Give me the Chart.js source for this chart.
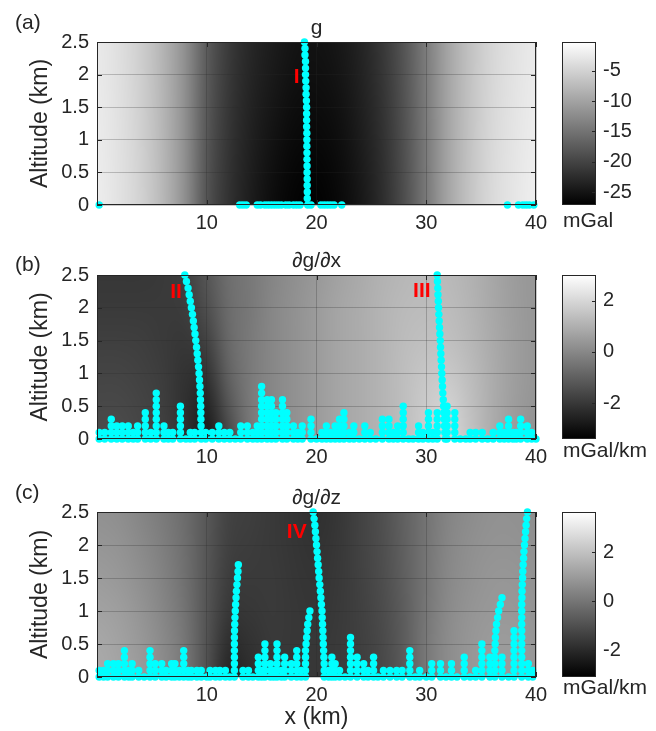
<!DOCTYPE html>
<html>
<head>
<meta charset="utf-8">
<script src="https://cdn.jsdelivr.net/npm/chart.js"></script>
<style>
  html, body { margin: 0; padding: 0; background: #fff; }
  #wrap { position: relative; width: 656px; height: 731px; }
  canvas { position: absolute; left: 0; }
</style>
</head>
<body>
<div id="wrap">
  <canvas id="panelA" width="656" height="235" style="top:0"></canvas>
  <canvas id="panelB" width="656" height="235" style="top:235px"></canvas>
  <canvas id="panelC" width="656" height="261" style="top:470px"></canvas>
</div>
<script>
// ---- background maps (columns at heatX, rows at the given altitudes, bottom row first)
const heatX = [0, 2, 4, 6, 8, 10, 12, 14, 16, 18, 20, 22, 24, 26, 28, 30, 32, 34, 36, 38, 40];
const heatZa = [0, 1.25, 2.5];
const heatZ = [0, 0.5, 1, 1.5, 2, 2.5];

// g (mGal)
const gMap = [
  [-2.2, -3.3, -5.0, -7.8, -12.0, -18.5, -22.0, -24.2, -25.8, -26.8, -27.0, -26.3, -24.8, -22.5, -19.0, -14.5, -9.8, -6.5, -4.2, -2.9, -2.0],
  [-2.4, -3.5, -5.2, -8.0, -12.0, -18.0, -21.5, -23.6, -25.0, -25.9, -26.1, -25.5, -24.1, -21.9, -18.6, -14.3, -9.8, -6.6, -4.4, -3.1, -2.3],
  [-2.6, -3.7, -5.4, -8.2, -12.0, -17.5, -21.0, -23.0, -24.2, -25.0, -25.2, -24.7, -23.4, -21.3, -18.2, -14.1, -9.8, -6.7, -4.6, -3.3, -2.5]
];
// dg/dx (mGal/km)
const dgdxMap = [
  [-1.52, -1.52, -1.64, -1.77, -2.15, -2.77, -1.64, -0.39, -0.01, 0.24, 0.49, 0.74, 0.92, 1.12, 1.37, 1.75, 2.00, 1.49, 0.92, 0.49, 0.24],
  [-1.59, -1.59, -1.69, -1.84, -2.20, -2.52, -1.27, -0.34, -0.01, 0.24, 0.49, 0.74, 0.92, 1.12, 1.37, 1.70, 1.87, 1.42, 0.92, 0.54, 0.31],
  [-1.69, -1.69, -1.77, -1.89, -2.15, -2.15, -0.94, -0.34, -0.01, 0.24, 0.49, 0.74, 0.92, 1.12, 1.37, 1.57, 1.62, 1.32, 0.92, 0.57, 0.37],
  [-1.82, -1.82, -1.84, -1.94, -2.02, -1.77, -0.76, -0.34, -0.01, 0.24, 0.49, 0.74, 0.92, 1.12, 1.32, 1.42, 1.42, 1.19, 0.87, 0.57, 0.37],
  [-1.94, -1.94, -1.94, -1.94, -1.89, -1.44, -0.69, -0.39, -0.01, 0.24, 0.49, 0.74, 0.92, 1.12, 1.27, 1.32, 1.32, 1.12, 0.82, 0.54, 0.37],
  [-2.02, -2.02, -2.02, -1.97, -1.84, -1.27, -0.64, -0.39, -0.06, 0.19, 0.42, 0.67, 0.87, 1.07, 1.19, 1.27, 1.24, 1.07, 0.79, 0.52, 0.37]
];
// dg/dz (mGal/km)
const dgdzMap = [
  [1.40, 1.27, 1.00, 0.61, 0.08, -0.98, -2.17, -1.91, -1.64, -1.64, -1.64, -1.56, -1.46, -1.19, -0.72, 0.08, 0.61, 0.87, 1.00, 1.00, 0.87],
  [1.35, 1.19, 0.92, 0.55, 0.02, -0.93, -1.91, -1.78, -1.59, -1.64, -1.64, -1.56, -1.43, -1.17, -0.66, 0.08, 0.61, 0.87, 1.00, 1.00, 0.87],
  [1.19, 1.08, 0.82, 0.45, -0.06, -0.88, -1.64, -1.64, -1.56, -1.64, -1.70, -1.59, -1.41, -1.11, -0.64, 0.02, 0.55, 0.82, 0.92, 0.92, 0.82],
  [1.03, 0.92, 0.69, 0.34, -0.14, -0.85, -1.51, -1.56, -1.56, -1.67, -1.72, -1.62, -1.38, -1.06, -0.59, 0.00, 0.50, 0.74, 0.87, 0.87, 0.76],
  [0.87, 0.79, 0.55, 0.24, -0.19, -0.82, -1.41, -1.51, -1.59, -1.70, -1.78, -1.64, -1.35, -1.04, -0.56, -0.03, 0.45, 0.69, 0.79, 0.79, 0.71],
  [0.74, 0.66, 0.42, 0.13, -0.24, -0.80, -1.35, -1.46, -1.59, -1.72, -1.83, -1.67, -1.35, -1.01, -0.53, -0.06, 0.39, 0.61, 0.74, 0.74, 0.66]
];

// colorbar limits
const gRange = [-27.1, -0.3];
const dgdxRange = [-3.4, 3.0];
const dgdzRange = [-3.1, 3.65];

// ---- detected points
// altitudes of the long chains, top to bottom; shorter chains use the lower part
const zChain = [2.5, 2.4, 2.3, 2.2, 2.1, 2.0, 1.9, 1.8, 1.7, 1.6, 1.5, 1.4, 1.3, 1.2, 1.1, 1.0, 0.9, 0.8, 0.7, 0.6, 0.5, 0.4, 0.3, 0.2, 0.1, 0];

const gChains = [
  [18.9, 18.95, 18.95, 19.0, 19.0, 19.0, 19.02, 19.05, 19.05, 19.08, 19.1, 19.1, 19.1, 19.1, 19.12, 19.12, 19.12, 19.13, 19.13, 19.14, 19.14, 19.15, 19.15, 19.16, 19.16, 19.2]
];
const gStacks = [
  [0.2, [0]], [13.0, [0]], [13.3, [0]], [13.6, [0]], [14.6, [0]], [14.9, [0]], [15.3, [0]], [15.6, [0]],
  [15.9, [0]], [16.2, [0]], [16.5, [0]], [16.8, [0]], [17.2, [0]], [17.5, [0]], [17.9, [0]], [18.2, [0]],
  [18.5, [0]], [19.5, [0]], [20.4, [0]], [20.7, [0]], [21.0, [0]], [21.3, [0]], [21.6, [0]], [22.3, [0]],
  [37.4, [0]], [38.4, [0]], [38.8, [0]], [39.1, [0]], [39.4, [0]], [39.8, [0]]
];

const dgdxChains = [
  [8.0, 8.15, 8.3, 8.4, 8.5, 8.6, 8.7, 8.78, 8.85, 8.93, 9.0, 9.07, 9.13, 9.19, 9.25, 9.3, 9.34, 9.38, 9.41, 9.43, 9.45, 9.46, 9.47, 9.48, 9.5, 9.5],
  [31.0, 31.02, 31.05, 31.07, 31.1, 31.12, 31.15, 31.18, 31.21, 31.24, 31.28, 31.3, 31.33, 31.36, 31.39, 31.42, 31.45, 31.48, 31.51, 31.55, 31.58, 31.6, 31.63, 31.66, 31.69, 31.72]
];
const dgdxStacks = [
  [0.2, [0, 0.1]], [0.7, [0, 0.1]], [1.3, [0, 0.1, 0.2, 0.3]], [1.8, [0, 0.1, 0.2]], [2.3, [0, 0.1, 0.2]],
  [2.85, [0, 0.1, 0.2]], [3.3, [0, 0.1]], [3.7, [0, 0.1, 0.2]], [4.4, [0, 0.1, 0.2, 0.3, 0.4]], [4.9, [0, 0.1]],
  [5.4, [0, 0.1, 0.2, 0.3, 0.4, 0.5, 0.6, 0.7]], [6.1, [0, 0.1, 0.2]], [6.5, [0, 0.1]], [6.9, [0, 0.1]],
  [7.6, [0, 0.1, 0.2, 0.3, 0.4, 0.5]], [8.1, [0]], [8.5, [0, 0.1]], [8.9, [0, 0.1]], [9.9, [0, 0.1]],
  [10.5, [0, 0.1]], [11.1, [0, 0.1, 0.2]], [11.6, [0, 0.1]], [12.1, [0, 0.1]], [12.6, [0]],
  [13.1, [0, 0.1, 0.2]], [13.7, [0, 0.1, 0.2]], [14.2, [0, 0.1]], [14.6, [0, 0.1, 0.2]],
  [15.0, [0, 0.1, 0.2, 0.3, 0.4, 0.5, 0.6, 0.7, 0.8]], [15.5, [0, 0.1, 0.2, 0.3, 0.4, 0.5, 0.6]],
  [15.9, [0, 0.1, 0.2, 0.3, 0.4, 0.5, 0.6]], [16.3, [0, 0.1, 0.2, 0.3, 0.4]],
  [16.9, [0, 0.1, 0.2, 0.3, 0.4, 0.5, 0.6]], [17.3, [0, 0.1, 0.2, 0.3, 0.4]], [17.9, [0, 0.1, 0.2]],
  [18.3, [0, 0.1]], [18.7, [0, 0.1, 0.2]], [19.5, [0, 0.1, 0.2, 0.3]], [20.0, [0]], [20.5, [0, 0.1]],
  [20.9, [0, 0.1, 0.2]], [21.3, [0, 0.1]], [21.7, [0, 0.1, 0.2]], [22.1, [0, 0.1, 0.2, 0.3]],
  [22.5, [0, 0.1, 0.2, 0.3, 0.4]], [23.0, [0, 0.1]], [23.4, [0, 0.1, 0.2]], [23.9, [0]], [24.4, [0, 0.1, 0.2]],
  [24.9, [0, 0.1]], [25.4, [0]], [26.0, [0, 0.1, 0.2, 0.3]], [26.6, [0, 0.1, 0.2, 0.3]], [27.0, [0, 0.1]],
  [27.4, [0, 0.1, 0.2]], [27.9, [0, 0.1, 0.2, 0.3, 0.4, 0.5]], [28.4, [0]], [28.8, [0]], [29.3, [0, 0.1, 0.2]],
  [29.7, [0, 0.1]], [30.2, [0, 0.1, 0.2, 0.3, 0.4]], [30.6, [0, 0.1]], [31.0, [0, 0.1, 0.2, 0.3, 0.4]],
  [31.9, [0, 0.1, 0.2, 0.3, 0.4, 0.5]], [32.6, [0, 0.1, 0.2, 0.3, 0.4]], [33.1, [0]], [33.6, [0]],
  [34.0, [0, 0.1]], [34.5, [0, 0.1]], [35.1, [0, 0.1]], [35.6, [0]], [36.1, [0, 0.1]], [36.7, [0, 0.1, 0.2]],
  [37.1, [0, 0.1]], [37.5, [0, 0.1, 0.2, 0.3]], [37.9, [0, 0.1]], [38.2, [0, 0.1]], [38.6, [0, 0.1, 0.2, 0.3]],
  [39.2, [0, 0.1, 0.2]], [39.6, [0, 0.1]], [40.0, [0]]
];

const dgdzChains = [
  [12.88, 12.85, 12.8, 12.75, 12.7, 12.67, 12.63, 12.6, 12.57, 12.55, 12.53, 12.52, 12.52, 12.52, 12.52, 12.52, 12.52, 12.52],
  [19.4, 19.3, 19.2, 19.15, 19.1, 19.05, 19.0, 19.0, 19.0, 19.0, 19.0],
  [19.7, 19.78, 19.85, 19.9, 19.95, 20.0, 20.05, 20.1, 20.15, 20.2, 20.24, 20.3, 20.35, 20.4, 20.45, 20.5, 20.52, 20.55, 20.58, 20.6, 20.62, 20.65, 20.67, 20.7, 20.7, 20.7],
  [36.9, 36.75, 36.6, 36.5, 36.4, 36.35, 36.3, 36.28, 36.25, 36.25, 36.25, 36.25, 36.25],
  [39.22, 39.15, 39.1, 39.05, 39.0, 38.95, 38.9, 38.87, 38.83, 38.8, 38.78, 38.75, 38.73, 38.72, 38.7, 38.7, 38.7, 38.7, 38.7, 38.7, 38.7, 38.7, 38.7, 38.7, 38.7, 38.7]
];
const dgdzStacks = [
  [0.2, [0, 0.1]], [0.6, [0, 0.1]], [0.97, [0, 0.1, 0.2]], [1.5, [0, 0.1, 0.2]], [1.95, [0, 0.1, 0.2]],
  [2.5, [0, 0.1, 0.2, 0.3, 0.4]], [2.9, [0, 0.1]], [3.2, [0, 0.1, 0.2]], [3.8, [0, 0.1]], [4.3, [0]],
  [4.83, [0, 0.1, 0.2, 0.3, 0.4]], [5.3, [0, 0.1, 0.2]], [5.9, [0, 0.1, 0.2]], [6.3, [0, 0.1]],
  [6.8, [0, 0.1, 0.2]], [7.1, [0, 0.1, 0.2]], [7.5, [0, 0.1]], [7.9, [0, 0.1, 0.2, 0.3, 0.4]], [8.3, [0, 0.1]],
  [8.6, [0, 0.1]], [9.1, [0, 0.1]], [9.5, [0, 0.1]], [10.0, [0]], [10.3, [0, 0.1]], [10.8, [0, 0.1]],
  [11.2, [0, 0.1]], [11.7, [0, 0.1]], [12.1, [0]], [13.3, [0, 0.1]], [13.8, [0, 0.1]], [14.2, [0]],
  [14.7, [0, 0.1, 0.2, 0.3]], [15.0, [0, 0.1]], [15.3, [0, 0.1, 0.2, 0.3, 0.4, 0.5]], [15.8, [0, 0.1, 0.2]],
  [16.1, [0, 0.1]], [16.4, [0, 0.1, 0.2, 0.3, 0.4, 0.5]], [16.8, [0, 0.1]], [17.1, [0, 0.1, 0.2, 0.3]],
  [17.7, [0, 0.1, 0.2]], [18.2, [0, 0.1, 0.2, 0.3, 0.4]], [18.6, [0, 0.1]], [21.1, [0, 0.1]],
  [21.4, [0, 0.1, 0.2, 0.3]], [21.7, [0, 0.1, 0.2]], [22.1, [0, 0.1]], [22.6, [0]],
  [23.1, [0, 0.1, 0.2, 0.3, 0.4, 0.5, 0.6]], [23.7, [0, 0.1, 0.2, 0.3]], [24.3, [0, 0.1, 0.2]], [24.7, [0, 0.1]],
  [25.2, [0, 0.1, 0.2, 0.3]], [25.6, [0]], [26.1, [0, 0.1]], [26.7, [0, 0.1]], [27.3, [0, 0.1]], [27.8, [0, 0.1]],
  [28.5, [0, 0.1, 0.2, 0.3, 0.4]], [29.0, [0]], [29.4, [0, 0.1]], [30.0, [0]], [30.5, [0, 0.1, 0.2]],
  [31.3, [0, 0.1, 0.2]], [31.8, [0]], [32.3, [0, 0.1, 0.2]], [32.8, [0]], [33.46, [0, 0.1, 0.2, 0.3]], [34.0, [0]],
  [34.5, [0, 0.1]], [35.07, [0, 0.1, 0.2, 0.3, 0.4, 0.5]], [35.8, [0, 0.1, 0.2, 0.3]],
  [36.9, [0, 0.1, 0.2, 0.3]], [37.5, [0]], [38.0, [0, 0.1, 0.2, 0.3, 0.4, 0.5, 0.6, 0.7]],
  [39.3, [0, 0.1, 0.2]], [39.7, [0, 0.1]]
];

// red markers (x km, altitude km)
const gMarks = [['I', 18.2, 1.97]];
const dgdxMarks = [['II', 7.2, 2.26], ['III', 29.6, 2.27]];
const dgdzMarks = [['IV', 18.2, 2.21]];

Chart.defaults.font.family = "'Liberation Sans', Arial, sans-serif";
Chart.defaults.color = '#262626';

const FONT = "'Liberation Sans', Arial, sans-serif";
const gridColor = 'rgba(38,38,38,0.25)';

function panelPlugin(cfg) {
  return {
    id: 'panel',
    beforeDraw(chart) {
      const {ctx, chartArea: a, scales: {x, y}} = chart;
      const vals = cfg.map, xs = heatX, zs = cfg.mapZ;
      const nx = xs.length, nz = zs.length;
      const off = document.createElement('canvas');
      off.width = nx; off.height = nz;
      const octx = off.getContext('2d');
      const img = octx.createImageData(nx, nz);
      for (let j = 0; j < nz; j++) {
        for (let i = 0; i < nx; i++) {
          const v = vals[nz - 1 - j][i];
          let f = (v - cfg.range[0]) / (cfg.range[1] - cfg.range[0]);
          f = Math.max(0, Math.min(1, f));
          const g = Math.round(255 * f);
          const k = 4 * (j * nx + i);
          img.data[k] = g; img.data[k + 1] = g; img.data[k + 2] = g; img.data[k + 3] = 255;
        }
      }
      octx.putImageData(img, 0, 0);
      const dx = xs[1] - xs[0], dz = zs[1] - zs[0];
      const x0 = x.getPixelForValue(xs[0] - dx / 2), x1 = x.getPixelForValue(xs[nx - 1] + dx / 2);
      const y0 = y.getPixelForValue(zs[nz - 1] + dz / 2), y1 = y.getPixelForValue(zs[0] - dz / 2);
      ctx.save();
      ctx.beginPath();
      ctx.rect(a.left, a.top, a.right - a.left, a.bottom - a.top);
      ctx.clip();
      ctx.imageSmoothingEnabled = true;
      ctx.imageSmoothingQuality = 'high';
      ctx.drawImage(off, x0, y0, x1 - x0, y1 - y0);
      ctx.restore();
    },
    afterDatasetsDraw(chart) {
      const {ctx, chartArea: a, scales: {x, y}} = chart;
      ctx.save();
      // box and inward ticks
      ctx.strokeStyle = '#262626';
      ctx.lineWidth = 1;
      ctx.strokeRect(a.left + 0.5, a.top + 0.5, a.right - a.left - 1, a.bottom - a.top - 1);
      ctx.beginPath();
      y.ticks.forEach(t => {
        const py = Math.round(y.getPixelForValue(t.value)) + 0.5;
        ctx.moveTo(a.left, py); ctx.lineTo(a.left + 5, py);
        ctx.moveTo(a.right, py); ctx.lineTo(a.right - 5, py);
      });
      x.ticks.forEach(t => {
        const px = Math.round(x.getPixelForValue(t.value)) + 0.5;
        ctx.moveTo(px, a.bottom); ctx.lineTo(px, a.bottom - 5);
        ctx.moveTo(px, a.top); ctx.lineTo(px, a.top + 5);
      });
      ctx.stroke();
      // red roman labels
      ctx.fillStyle = '#ff0000';
      ctx.font = 'bold 21px ' + FONT;
      ctx.textAlign = 'center';
      ctx.textBaseline = 'middle';
      cfg.marks.forEach(([t, mx, mz]) => {
        ctx.fillText(t, x.getPixelForValue(mx), y.getPixelForValue(mz) + 1);
      });
      ctx.restore();
    },
    afterDraw(chart) {
      const {ctx, chartArea: a, scales: {cb}} = chart;
      ctx.save();
      // colorbar
      const bx0 = cb.left + 26, bx1 = cb.left + 60;
      const yLo = cb.getPixelForValue(cfg.range[0]), yHi = cb.getPixelForValue(cfg.range[1]);
      const grad = ctx.createLinearGradient(0, yLo, 0, yHi);
      grad.addColorStop(0, '#000');
      grad.addColorStop(1, '#fff');
      ctx.fillStyle = grad;
      ctx.fillRect(bx0, yHi, bx1 - bx0, yLo - yHi);
      ctx.strokeStyle = '#262626';
      ctx.lineWidth = 1;
      ctx.strokeRect(bx0 + 0.5, yHi + 0.5, bx1 - bx0 - 1, yLo - yHi - 1);
      ctx.beginPath();
      cb.ticks.forEach(t => {
        const py = Math.round(cb.getPixelForValue(t.value)) + 0.5;
        ctx.moveTo(bx1, py); ctx.lineTo(bx1 - 4, py);
      });
      ctx.stroke();
      ctx.fillStyle = '#262626';
      ctx.font = '21px ' + FONT;
      ctx.textAlign = 'left';
      ctx.textBaseline = 'middle';
      ctx.fillText(cfg.unit, bx0 + 1, a.bottom + cfg.unitDy);
      // title and panel letter
      ctx.textAlign = 'center';
      ctx.textBaseline = 'alphabetic';
      ctx.fillText(cfg.title, (a.left + a.right) / 2, a.top - 8);
      ctx.textAlign = 'left';
      ctx.fillText(cfg.letter, 15, cfg.letterY);
      ctx.restore();
    }
  };
}

function makePanel(id, cfg) {
  const points = [];
  cfg.stacks.forEach(([px, zs]) => zs.forEach(z => points.push({x: px, y: z})));
  cfg.chains.forEach(xs => {
    const zs = zChain.slice(zChain.length - xs.length);
    xs.forEach((px, i) => points.push({x: px, y: zs[i]}));
  });
  return new Chart(document.getElementById(id), {
    type: 'scatter',
    data: {
      datasets: [{
        data: points,
        backgroundColor: '#00ffff',
        borderWidth: 0,
        pointRadius: 3.7,
        clip: false
      }]
    },
    options: {
      responsive: false,
      animation: false,
      events: [],
      layout: {padding: {top: cfg.top, left: 0, right: 0, bottom: 0}},
      plugins: {legend: {display: false}, tooltip: {enabled: false}},
      scales: {
        x: {
          type: 'linear', min: 0, max: 40,
          afterFit: s => { s.height = cfg.xAxisHeight; },
          grid: {color: gridColor, drawTicks: false},
          border: {display: false},
          ticks: {stepSize: 10, padding: 6, maxRotation: 0, autoSkip: false, font: {size: 20},
                  callback: v => v === 0 ? '' : String(v)},
          title: {display: cfg.xTitle, text: 'x (km)', font: {size: 23}, padding: {top: 0, bottom: 0}}
        },
        y: {
          type: 'linear', min: 0, max: 2.5,
          afterFit: s => { s.width = 97; },
          grid: {color: gridColor, drawTicks: false},
          border: {display: false},
          ticks: {stepSize: 0.5, padding: 8, autoSkip: false, font: {size: 20}, callback: v => String(v)},
          title: {display: true, text: 'Altitude (km)', font: {size: 23}, padding: {top: 27, bottom: 0}}
        },
        cb: {
          type: 'linear', position: 'right', min: cfg.range[0], max: cfg.range[1],
          afterFit: s => { s.width = 120; },
          grid: {display: false, drawTicks: true, tickLength: 64},
          border: {display: false},
          ticks: {stepSize: cfg.cbStep, includeBounds: false, padding: 3, autoSkip: false, font: {size: 20},
                  callback: v => String(v)}
        }
      }
    },
    plugins: [panelPlugin(cfg)]
  });
}

makePanel('panelA', {
  top: 42, xAxisHeight: 30, xTitle: false,
  map: gMap, mapZ: heatZa, range: gRange, cbStep: 5,
  stacks: gStacks, chains: gChains, marks: gMarks,
  title: 'g', letter: '(a)', letterY: 29, unit: 'mGal', unitDy: 16
});
makePanel('panelB', {
  top: 40, xAxisHeight: 31, xTitle: false,
  map: dgdxMap, mapZ: heatZ, range: dgdxRange, cbStep: 2,
  stacks: dgdxStacks, chains: dgdxChains, marks: dgdxMarks,
  title: '\u2202g/\u2202x', letter: '(b)', letterY: 36, unit: 'mGal/km', unitDy: 12
});
makePanel('panelC', {
  top: 42, xAxisHeight: 54, xTitle: true,
  map: dgdzMap, mapZ: heatZ, range: dgdzRange, cbStep: 2,
  stacks: dgdzStacks, chains: dgdzChains, marks: dgdzMarks,
  title: '\u2202g/\u2202z', letter: '(c)', letterY: 29, unit: 'mGal/km', unitDy: 11
});
</script>
</body>
</html>
